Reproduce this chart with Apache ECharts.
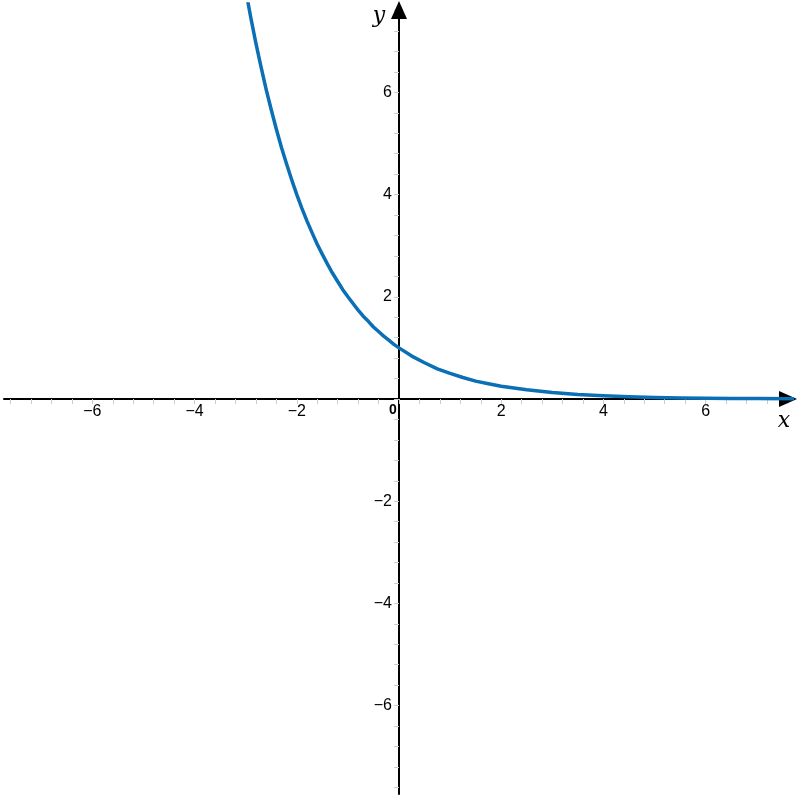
<!DOCTYPE html>
<html><head><meta charset="utf-8">
<script src="https://cdn.jsdelivr.net/npm/echarts@6/dist/echarts.min.js"></script>
<style>html,body{margin:0;padding:0;background:#fff}#c{width:798px;height:798px}</style>
</head><body><div id="c"></div>
<script>
const curveX = [-3.0, -2.9, -2.8, -2.7, -2.6, -2.5, -2.4, -2.3, -2.2, -2.1, -2.0, -1.9, -1.8, -1.7, -1.6, -1.5, -1.4, -1.3, -1.2, -1.1, -1.0, -0.9, -0.8, -0.7, -0.6, -0.5, -0.4, -0.3, -0.2, -0.1, 0.0, 0.25, 0.5, 0.75, 1.0, 1.25, 1.5, 1.75, 2.0, 2.5, 3.0, 3.5, 4.0, 4.5, 5.0, 5.5, 6.0, 6.5, 7.0, 7.73];
const curveY = [8.0, 7.46, 6.96, 6.5, 6.06, 5.66, 5.28, 4.92, 4.6, 4.29, 4.0, 3.73, 3.48, 3.25, 3.03, 2.83, 2.64, 2.46, 2.3, 2.14, 2.0, 1.87, 1.74, 1.62, 1.52, 1.41, 1.32, 1.23, 1.15, 1.07, 1.0, 0.84, 0.71, 0.59, 0.5, 0.42, 0.35, 0.3, 0.25, 0.18, 0.125, 0.088, 0.063, 0.044, 0.031, 0.022, 0.016, 0.011, 0.008, 0.005];
const xTickLabels = [-6, -4, -2, 2, 4, 6];
const yTickLabels = [-6, -4, -2, 2, 4, 6];
const axisMin = -7.73, axisMax = 7.73;

const minor = [];
for (let i = -19; i <= 19; i++) minor.push(Math.round(i * 0.4 * 10) / 10);

const fmt = v => (v < 0 ? '\u2212' + Math.abs(v) : String(v));
const chart = echarts.init(document.getElementById('c'));
chart.setOption({
  animation: false,
  grid: { left: 4, right: 4, top: 4, bottom: 4, containLabel: false, outerBoundsMode: 'none' },
  xAxis: {
    type: 'value', min: axisMin, max: axisMax,
    splitLine: { show: false },
    axisLine: { onZero: true, lineStyle: { color: '#000', width: 2 }, symbol: ['none', 'triangle'], symbolSize: [16, 18], symbolOffset: [0, -6] },
    axisTick: { show: true, customValues: minor, length: 5, lineStyle: { color: '#cccccc', width: 1 } },
    axisLabel: { show: false }
  },
  yAxis: {
    type: 'value', min: axisMin, max: axisMax,
    splitLine: { show: false },
    axisLine: { onZero: true, lineStyle: { color: '#000', width: 2 }, symbol: ['none', 'triangle'], symbolSize: [16, 18], symbolOffset: [0, -6] },
    axisTick: { show: true, customValues: minor, length: 5, lineStyle: { color: '#cccccc', width: 1 } },
    axisLabel: { show: false }
  },
  series: [{
    type: 'line', data: curveX.map((x, i) => [x, curveY[i]]),
    smooth: false, showSymbol: false, clip: true,
    lineStyle: { color: '#0a6fb5', width: 3.5, join: 'round' }
  }]
});
const o = chart.convertToPixel({ gridIndex: 0 }, [0, 0]);
const font = '16px Liberation Sans, Arial';
const g = [];
xTickLabels.forEach(v => {
  const p = chart.convertToPixel({ gridIndex: 0 }, [v, 0]);
  g.push({ type: 'text', x: p[0], y: o[1] + 13, style: { text: fmt(v), font, fill: '#000', textAlign: 'center', textVerticalAlign: 'middle' } });
});
yTickLabels.forEach(v => {
  const p = chart.convertToPixel({ gridIndex: 0 }, [0, v]);
  g.push({ type: 'text', x: o[0] - 7, y: p[1], style: { text: fmt(v), font, fill: '#000', textAlign: 'right', textVerticalAlign: 'middle' } });
});
g.push({ type: 'text', x: o[0] - 6, y: o[1] + 11, style: { text: '0', font: 'bold 14px Liberation Sans, Arial', fill: '#000', textAlign: 'center', textVerticalAlign: 'middle' } });
g.push({ type: 'text', x: o[0] - 20, y: 16, style: { text: 'y', font: 'italic 22px DejaVu Serif, serif', fill: '#000', textAlign: 'center', textVerticalAlign: 'middle' } });
g.push({ type: 'text', x: 784, y: o[1] + 22, style: { text: 'x', font: 'italic 22px DejaVu Serif, serif', fill: '#000', textAlign: 'center', textVerticalAlign: 'middle' } });
chart.setOption({ graphic: g });
</script></body></html>
